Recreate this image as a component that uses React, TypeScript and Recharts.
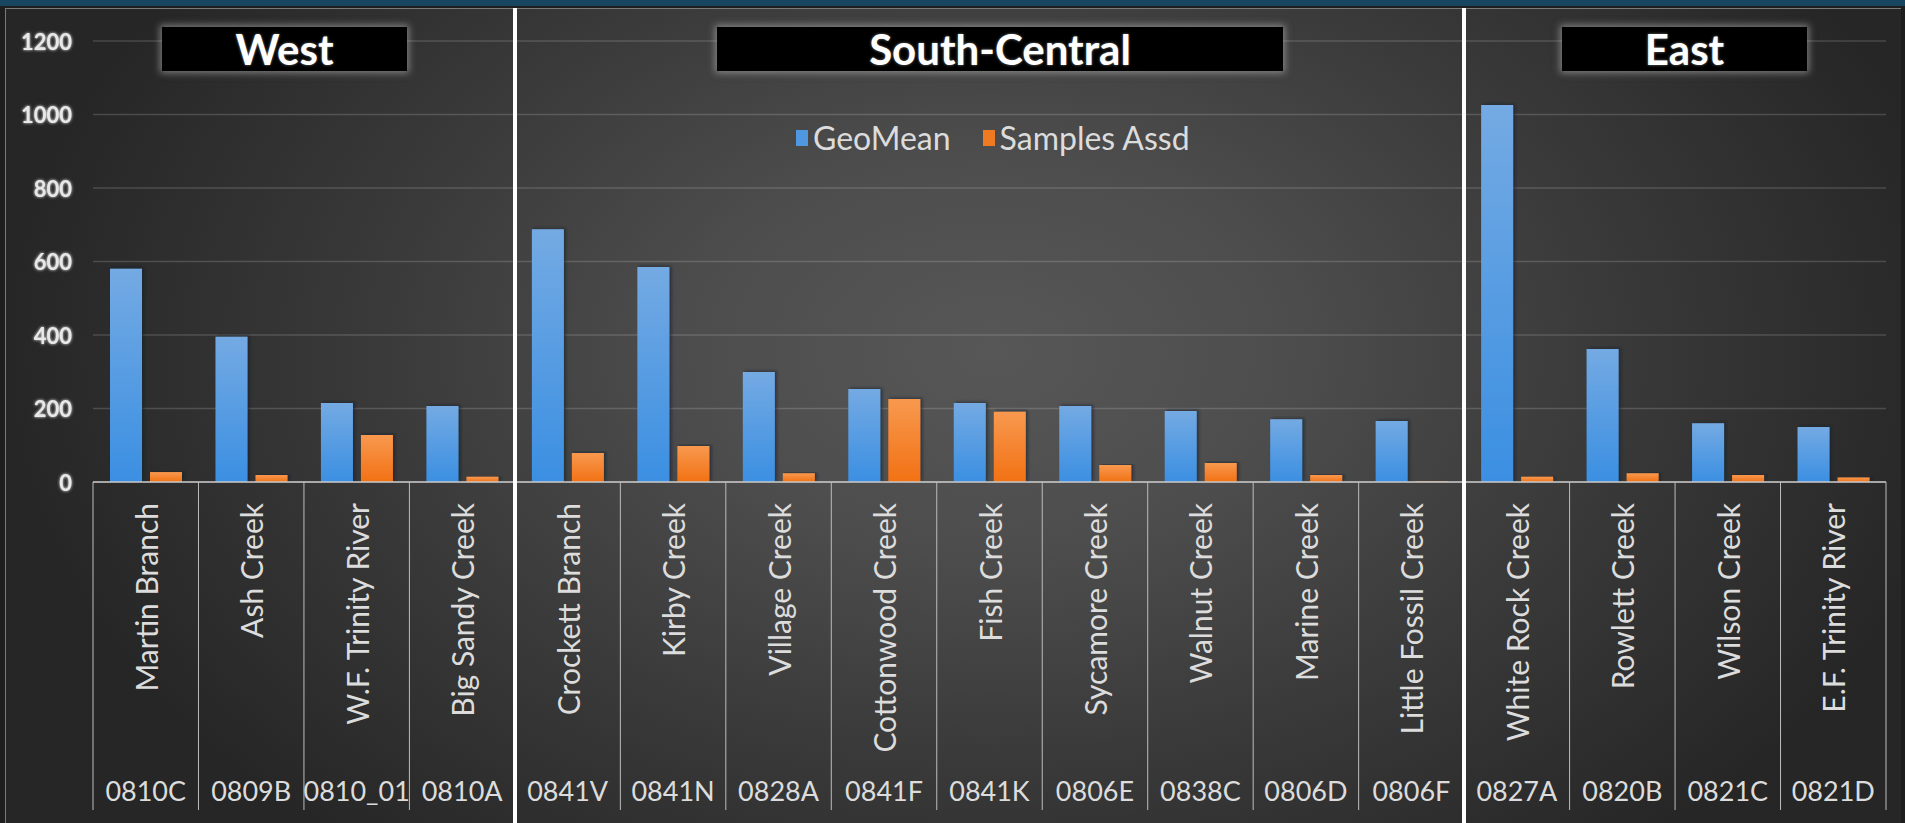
import { BarChart, Bar, XAxis, YAxis, CartesianGrid, Legend } from 'recharts';

const stationNames = [
  'Martin Branch', 'Ash Creek', 'W.F. Trinity River', 'Big Sandy Creek',
  'Crockett Branch', 'Kirby Creek', 'Village Creek', 'Cottonwood Creek', 'Fish Creek',
  'Sycamore Creek', 'Walnut Creek', 'Marine Creek', 'Little Fossil Creek',
  'White Rock Creek', 'Rowlett Creek', 'Wilson Creek', 'E.F. Trinity River',
];
const stationCodes = [
  '0810C', '0809B', '0810_01', '0810A',
  '0841V', '0841N', '0828A', '0841F', '0841K', '0806E', '0838C', '0806D', '0806F',
  '0827A', '0820B', '0821C', '0821D',
];
const geoMean = [580, 395, 215, 207, 688, 585, 299, 253, 215, 207, 193, 171, 166, 1026, 362, 160, 150];
const samplesAssd = [27, 19, 128, 14, 79, 98, 24, 226, 191, 46, 52, 19, 2, 14, 24, 19, 12];
const regionNames = ['West', 'South-Central', 'East'];
const regionSizes = [4, 9, 4];
const yTicks = [0, 200, 400, 600, 800, 1000, 1200];

// layout
const W = 1905;
const H = 823;
const PLOT_LEFT = 93;
const PLOT_RIGHT = 19;
const PLOT_TOP = 41;
const AXIS_H = 341;
const AXIS_Y = H - AXIS_H;
const BAND = (W - PLOT_LEFT - PLOT_RIGHT) / stationCodes.length;
const FONT = 'Lato, "Noto Sans", sans-serif';
const LABEL = '#dcdcdc';

// title boxes (left, width) in page pixels
const titleBoxes = [
  { left: 162, width: 245 },
  { left: 717, width: 566 },
  { left: 1562, width: 245 },
];

const legendColors: Record<string, string> = { geoMean: '#4f97e0', samples: '#f07a22' };

const chartData = stationCodes.map((code, i) => ({
  code,
  name: stationNames[i],
  geoMean: geoMean[i],
  samples: samplesAssd[i],
}));

function CategoryTick(props: any) {
  const { x, payload, index } = props;
  const i = payload?.index ?? index;
  const half = payload?.offset || BAND / 2;
  const nameY = AXIS_Y + 21;
  return (
    <g>
      <line x1={x - half} y1={AXIS_Y} x2={x - half} y2={810} stroke="#bdbdbd" strokeWidth={1} />
      {i === stationCodes.length - 1 && (
        <line x1={x + half} y1={AXIS_Y} x2={x + half} y2={810} stroke="#bdbdbd" strokeWidth={1} />
      )}
      <text
        x={x}
        y={nameY}
        transform={`rotate(-90 ${x} ${nameY})`}
        textAnchor="end"
        dominantBaseline="central"
        fill={LABEL}
        fontSize={30}
        fontFamily={FONT}
      >
        {stationNames[i]}
      </text>
      <text x={x} y={790} textAnchor="middle" dominantBaseline="central" fill={LABEL} fontSize={27} fontFamily={FONT}>
        {payload.value}
      </text>
    </g>
  );
}

function ValueTick(props: any) {
  const { x, y, payload } = props;
  return (
    <text
      x={x}
      y={y}
      textAnchor="end"
      dominantBaseline="central"
      fill="#e8e8e8"
      fontSize={22}
      fontWeight={700}
      fontFamily={FONT}
      filter="url(#tickGlow)"
    >
      {payload.value}
    </text>
  );
}

function LegendContent(props: any) {
  const items = props?.payload ?? [];
  return (
    <div style={{ display: 'flex', alignItems: 'center', gap: 32, fontFamily: FONT, fontSize: 32, color: LABEL }}>
      {items.map((item: any) => (
        <div key={item.dataKey} style={{ display: 'flex', alignItems: 'center', gap: 5 }}>
          <span style={{ display: 'inline-block', width: 12, height: 16, background: legendColors[item.dataKey] }} />
          <span>{item.value}</span>
        </div>
      ))}
    </div>
  );
}

export default function App() {
  let cum = 0;
  const separators = regionSizes.slice(0, -1).map((n) => {
    cum += n;
    return PLOT_LEFT + cum * BAND;
  });

  return (
    <>
      <style>{'body{margin:0}'}</style>
      <div style={{ position: 'relative', width: W, height: H, background: '#1e1e1e', overflow: 'hidden' }}>
        <div
          style={{
            position: 'absolute',
            left: 5,
            top: 8,
            width: W - 10,
            height: H - 8,
            borderTop: '1px solid #7a7a7a',
            borderLeft: '1px solid #7a7a7a',
            background:
              'radial-gradient(ellipse 52% 80% at 52% 42%, #575757 0%, #4d4d4d 30%, #3a3a3a 62%, #262626 100%)',
          }}
        />
        <div style={{ position: 'absolute', left: 0, top: 0, width: W, height: 6, background: '#184661' }} />
        <div style={{ position: 'absolute', left: 0, top: 0 }}>
          <BarChart
            width={W}
            height={H}
            data={chartData}
            margin={{ top: PLOT_TOP, right: PLOT_RIGHT, bottom: 0, left: 0 }}
            barCategoryGap={17}
            barGap={8}
          >
            <defs>
              <linearGradient id="blueFill" x1="0" y1="0" x2="0" y2="1">
                <stop offset="0%" stopColor="#74aae3" />
                <stop offset="100%" stopColor="#3b8fe2" />
              </linearGradient>
              <linearGradient id="orangeFill" x1="0" y1="0" x2="0" y2="1">
                <stop offset="0%" stopColor="#f8994f" />
                <stop offset="100%" stopColor="#f27114" />
              </linearGradient>
              <filter id="tickGlow" x="-20%" y="-40%" width="140%" height="180%">
                <feGaussianBlur stdDeviation="1.6" result="b" />
                <feMerge>
                  <feMergeNode in="b" />
                  <feMergeNode in="SourceGraphic" />
                </feMerge>
              </filter>
              <filter id="barShadow" x="-20%" y="-5%" width="140%" height="110%">
                <feDropShadow dx="2" dy="-1" stdDeviation="1.5" floodColor="#0b1a2a" floodOpacity="0.6" />
              </filter>
            </defs>
            <CartesianGrid vertical={false} stroke="rgba(255,255,255,0.16)" strokeWidth={1.5} />
            <XAxis
              dataKey="code"
              interval={0}
              height={AXIS_H}
              tickLine={false}
              tickSize={0}
              tickMargin={0}
              axisLine={{ stroke: '#c8c8c8', strokeWidth: 1.5 }}
              tick={<CategoryTick />}
            />
            <YAxis
              width={PLOT_LEFT}
              domain={[0, 1200]}
              ticks={yTicks}
              axisLine={false}
              tickLine={false}
              tickSize={0}
              tickMargin={21}
              tick={<ValueTick />}
            />
            <Legend
              layout="horizontal"
              verticalAlign="middle"
              align="center"
              content={<LegendContent />}
              wrapperStyle={{ top: 118, left: 796, width: 'auto', height: 'auto' }}
            />
            <Bar dataKey="geoMean" name="GeoMean" fill="url(#blueFill)" filter="url(#barShadow)" isAnimationActive={false} />
            <Bar dataKey="samples" name="Samples Assd" fill="url(#orangeFill)" filter="url(#barShadow)" isAnimationActive={false} />
          </BarChart>
        </div>
        {separators.map((x) => (
          <div
            key={x}
            style={{ position: 'absolute', left: x - 2, top: 8, width: 4, height: H - 8, background: '#ffffff' }}
          />
        ))}
        {regionNames.map((name, i) => (
          <div
            key={name}
            style={{
              position: 'absolute',
              left: titleBoxes[i].left,
              top: 27,
              width: titleBoxes[i].width,
              height: 44,
              background: '#000',
              boxShadow: '0 0 7px 2px rgba(190,190,190,0.55)',
              display: 'flex',
              alignItems: 'center',
              justifyContent: 'center',
              color: '#fff',
              fontFamily: FONT,
              fontWeight: 700,
              fontSize: 42,
              textShadow: '0 0 3px rgba(255,255,255,0.45)',
              lineHeight: 1,
            }}
          >
            {name}
          </div>
        ))}
      </div>
    </>
  );
}
